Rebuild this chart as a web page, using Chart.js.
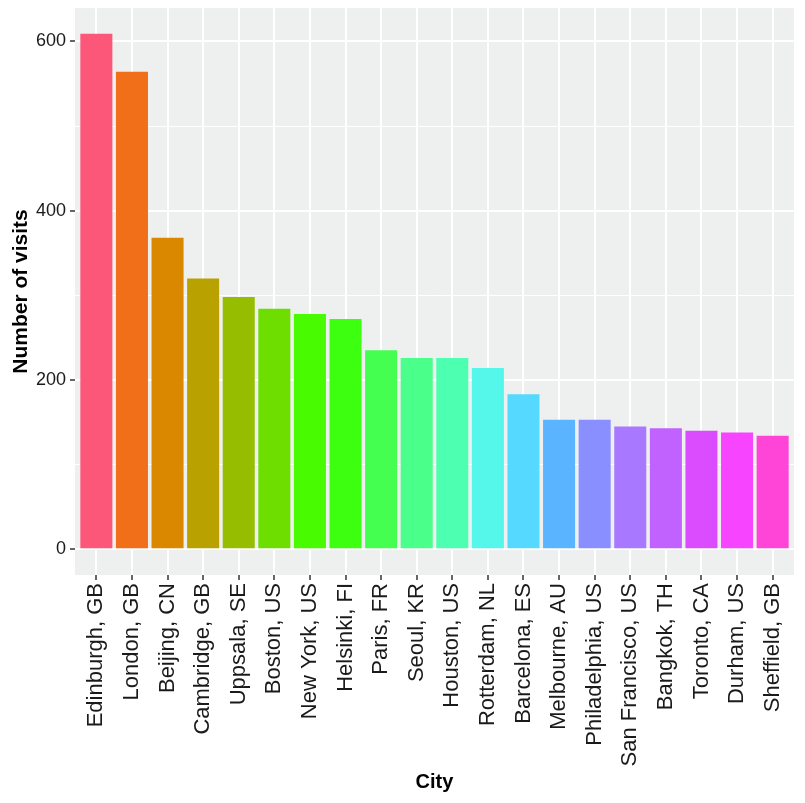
<!DOCTYPE html>
<html>
<head>
<meta charset="utf-8">
<script src="https://cdn.jsdelivr.net/npm/chart.js@4"></script>
<style>
  html, body { margin: 0; padding: 0; background: #ffffff; }
  canvas { display: block; }
</style>
</head>
<body>
<canvas id="visitsChart" width="805" height="803"></canvas>
<script>
const cities = [
    'Edinburgh, GB', 'London, GB', 'Beijing, CN', 'Cambridge, GB', 'Uppsala, SE',
    'Boston, US', 'New York, US', 'Helsinki, FI', 'Paris, FR', 'Seoul, KR',
    'Houston, US', 'Rotterdam, NL', 'Barcelona, ES', 'Melbourne, AU', 'Philadelphia, US',
    'San Francisco, US', 'Bangkok, TH', 'Toronto, CA', 'Durham, US', 'Sheffield, GB'
];
const visits = [609, 564, 368, 320, 298, 284, 278, 272, 235, 226,
                226, 214, 183, 153, 153, 145, 143, 140, 138, 134];
const barColors = [
    '#FC5679', '#F06F18', '#DA8800', '#B9A200', '#97BD00',
    '#6EDD00', '#48FB00', '#3DFF10', '#44FF4F', '#4AFF8A',
    '#4DFFB0', '#55F7EA', '#55D9FF', '#5AB4FF', '#8A8FFF',
    '#A878FF', '#C162FF', '#DC4CFF', '#F744FF', '#FF44D8'
];
const yTicks = [0, 100, 200, 300, 400, 500, 600];
const yLabelled = [0, 200, 400, 600];

// ggplot-like expansion around the data
const yMin = -30.45, yMax = 639.45;
const xMin = 0.4, xMax = cities.length + 0.6;

const panelBg = {
    id: 'panelBg',
    beforeDraw(chart) {
        const {ctx, chartArea: a} = chart;
        ctx.save();
        ctx.fillStyle = '#EEF0EF';
        ctx.fillRect(a.left, a.top, a.right - a.left, a.bottom - a.top);
        ctx.restore();
    }
};

const ctx = document.getElementById('visitsChart').getContext('2d');
new Chart(ctx, {
    type: 'bar',
    data: {
        datasets: [{
            data: visits.map((v, i) => ({x: i + 1, y: v})),
            backgroundColor: barColors,
            borderWidth: 0,
            barPercentage: 0.9,
            categoryPercentage: 1
        }]
    },
    options: {
        responsive: false,
        devicePixelRatio: 1,
        animation: false,
        layout: { padding: { top: 8, right: 11, left: 0, bottom: 0 } },
        plugins: {
            legend: { display: false },
            tooltip: { enabled: false }
        },
        scales: {
            x: {
                type: 'linear',
                min: xMin,
                max: xMax,
                offset: false,
                afterBuildTicks: scale => {
                    scale.ticks = cities.map((c, i) => ({value: i + 1}));
                },
                afterFit: scale => {
                    scale.height = 228;
                    scale.paddingLeft = 0;
                    scale.paddingRight = 0;
                },
                border: { display: false },
                grid: {
                    offset: false,
                    color: '#ffffff',
                    lineWidth: 2,
                    tickLength: 5,
                    tickColor: '#333333',
                    tickWidth: 1.5
                },
                ticks: {
                    autoSkip: false,
                    minRotation: 90,
                    maxRotation: 90,
                    padding: 3,
                    color: '#1a1a1a',
                    font: { family: '"Liberation Sans", Arial, sans-serif', size: 22 },
                    callback: value => cities[value - 1]
                },
                title: {
                    display: true,
                    text: 'City',
                    color: '#000000',
                    padding: { top: 0, bottom: 9 },
                    font: { family: '"Liberation Sans", Arial, sans-serif', size: 20, weight: 'bold' }
                }
            },
            y: {
                min: yMin,
                max: yMax,
                afterBuildTicks: scale => {
                    scale.ticks = yTicks.map(v => ({value: v}));
                },
                afterFit: scale => {
                    scale.width = 75;
                    scale.paddingTop = 0;
                    scale.paddingBottom = 0;
                },
                border: { display: false },
                grid: {
                    color: '#ffffff',
                    lineWidth: c => yLabelled.includes(c.tick.value) ? 2 : 1,
                    tickLength: 5,
                    tickColor: c => yLabelled.includes(c.tick.value) ? '#333333' : 'rgba(0,0,0,0)',
                    tickWidth: 1.5
                },
                ticks: {
                    padding: 4,
                    color: '#1a1a1a',
                    font: { family: '"Liberation Sans", Arial, sans-serif', size: 18 },
                    callback: value => yLabelled.includes(value) ? value : ''
                },
                title: {
                    display: true,
                    text: 'Number of visits',
                    color: '#000000',
                    padding: { top: 9, bottom: 0 },
                    font: { family: '"Liberation Sans", Arial, sans-serif', size: 21, weight: 'bold' }
                }
            }
        }
    },
    plugins: [panelBg]
});
</script>
</body>
</html>
